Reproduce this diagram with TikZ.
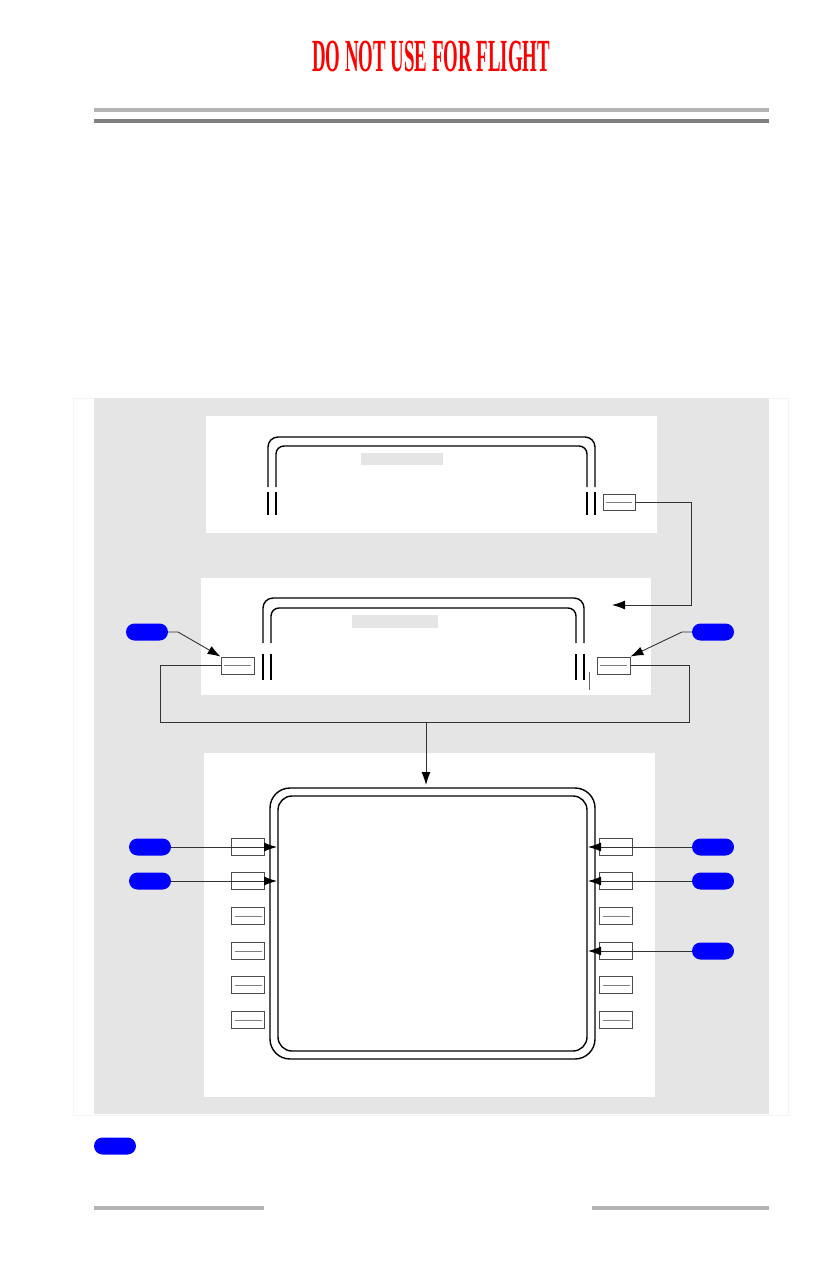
\documentclass[tikz,border=0pt]{standalone}
\usepackage{fontspec}
\setmainfont{Liberation Serif}
\usetikzlibrary{arrows.meta,calc}
\definecolor{panelgray}{HTML}{E5E5E5}
\definecolor{rulelight}{HTML}{B4B4B4}
\definecolor{ruledark}{HTML}{808080}
\definecolor{pillblue}{HTML}{0000FF}
\tikzset{
  panel/.style={fill=white,draw=none},
  btn/.style={draw=black!70,line width=0.8pt,fill=white,minimum width=33pt,minimum height=17pt,inner sep=0pt,
    path picture={\draw[ruledark,line width=1pt] ([xshift=3pt]path picture bounding box.west) -- ([xshift=-3pt]path picture bounding box.east);}},
  btnplain/.style={draw=black!70,line width=0.8pt,fill=white,minimum width=33pt,minimum height=17pt,inner sep=0pt},
  pill/.style={fill=pillblue,draw=none,rounded corners=8.5pt,minimum width=42pt,minimum height=17pt,inner sep=0pt},
  conn/.style={black!80,line width=0.9pt},
  arr/.style={conn,-{Latex[length=13pt,width=9pt,color=black]}},
  dline/.style={black,line width=1.4pt},
  lbl/.style={fill=panelgray,draw=none,inner sep=0pt}
}
\begin{document}
\begin{tikzpicture}[x=1pt,y=-1pt]
\useasboundingbox (0,0) rectangle (825,1275);
% title
\node[text=red,font=\bfseries\fontsize{46}{46}\selectfont,inner sep=0pt] (title) at (431,56) {\scalebox{0.41}[1]{DO NOT USE FOR FLIGHT}};
% header rules
\draw[rulelight,line width=4pt] (94,110) -- (769,110);
\draw[ruledark,line width=4pt] (94,121) -- (769,121);
% footer rules
\draw[rulelight,line width=3.5pt] (94,1208) -- (264,1208);
\draw[rulelight,line width=3.5pt] (592,1208) -- (769,1208);
% frame
\draw[black!4,line width=0.6pt] (73,398) rectangle (788,1115);
\fill[panelgray] (94,398) rectangle (769,1114);
% panels
\fill[panel] (206,416) rectangle (657,533);
\fill[panel] (201,578) rectangle (651,695);
\fill[panel] (204,753) rectangle (655,1097);

% ---- top panel ----
\draw[dline,rounded corners=10pt] (268,487) -- (268,437) -- (595,437) -- (595,487);
\draw[dline,rounded corners=8pt] (276,487) -- (276,446) -- (587,446) -- (587,487);
\draw[dline] (268,492) -- (268,515) (276,492) -- (276,515) (587,492) -- (587,515) (595,492) -- (595,515);
\node[lbl,minimum width=82pt,minimum height=12pt] (toplbl) at (402,459) {};
\node[btn,minimum width=32pt,minimum height=16pt] (topbtn) at (619,502) {};

% ---- middle panel ----
\draw[dline,rounded corners=10pt] (263,643) -- (263,598) -- (584,598) -- (584,643);
\draw[dline,rounded corners=8pt] (271,643) -- (271,608) -- (576,608) -- (576,643);
\draw[dline] (263,654) -- (263,680) (271,654) -- (271,680) (576,654) -- (576,680) (584,654) -- (584,680);
\draw[black!60,line width=0.6pt] (589,672) -- (589,690);
\node[lbl,minimum width=86pt,minimum height=13pt] (midlbl) at (395,621) {};
\node[btn] (mbl) at (237.5,665.5) {};
\node[btn] (mbr) at (613.5,665.5) {};
\coordinate (midin) at (612,605);
\draw[arr] (topbtn.east) -- (691,502) -- (691,605) -- (midin);

\node[pill] (pml) at (147,632) {};
\node[pill] (pmr) at (713,632) {};
\draw[arr] (pml.east) -- (178,632) -- (mbl.north west);
\draw[arr] (pmr.west) -- (682,632) -- (mbr.north east);

% bus
\coordinate (bus) at (426,722);
\coordinate (dispin) at (426,785);
\draw[conn] (mbl.west) -- (160,665.5) -- (160,722) -- (689,722) -- (689,665.5) -- (mbr.east);
\draw[arr] (bus) -- (dispin);

% ---- bottom panel ----
\draw[dline,rounded corners=20pt] (270,788) rectangle (595,1059);
\draw[dline,rounded corners=14pt] (278,796) rectangle (587,1051);

\foreach \i/\y in {1/847,2/881,3/916,4/951,5/985,6/1020}{
  \node[btn] (L\i) at (248,\y) {};
  \node[btn] (R\i) at (616,\y) {};
}
% buttons with connectors drawn over
\node[btnplain] at (L1) {};
\node[btnplain] at (L2) {};
\node[btnplain] at (R1) {};
\node[btnplain] at (R2) {};
\node[btnplain] at (R4) {};

\node[pill] (pl1) at (150,847) {};
\node[pill] (pl2) at (150,881) {};
\node[pill] (pr1) at (713,847) {};
\node[pill] (pr2) at (713,881) {};
\node[pill] (pr4) at (713,951) {};
\draw[arr] (pl1.east) -- (277,847);
\draw[arr] (pl2.east) -- (277,881);
\draw[arr] (pr1.west) -- (588,847);
\draw[arr] (pr2.west) -- (588,881);
\draw[arr] (pr4.west) -- (588,951);

% legend pill
\node[pill] (legend) at (115,1146) {};
\end{tikzpicture}
\end{document}
